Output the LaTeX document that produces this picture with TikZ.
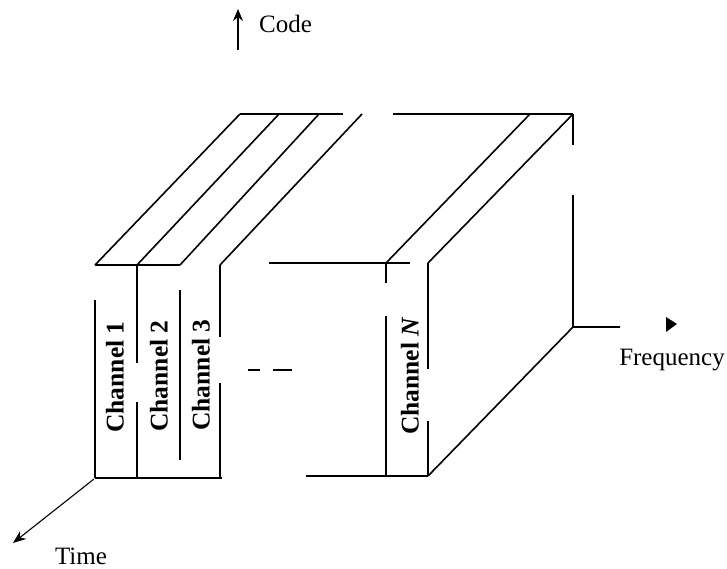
\documentclass[tikz,border=0pt]{standalone}
\usepackage{fontspec}
\setmainfont{Liberation Serif}
\usetikzlibrary{arrows.meta}
\begin{document}
\begin{tikzpicture}[x=1pt,y=-1pt,
  edge/.style={line width=1.6pt},
  axis/.style={line width=1.1pt},
  lab/.style={font=\fontsize{25}{30}\selectfont, inner sep=0pt},
  chan/.style={font=\fontsize{25.5}{30}\selectfont\bfseries, rotate=90, inner sep=0pt}]
\useasboundingbox (0,0) rectangle (727,569);
% back top edge
\draw[edge] (240,114) -- (343,114);
\draw[edge] (393,114) -- (573,114);
% diagonals of the top face
\draw[edge] (240,114) -- (95,265);
\draw[edge] (279,114) -- (137,265);
\draw[edge] (319,114) -- (180,265);
\draw[edge] (362,114) -- (220,265);
\draw[edge] (530,114) -- (386,263);
\draw[edge] (573,114) -- (428,263);
% front top edges
\draw[edge] (95,265) -- (180,265);
\draw[edge] (269,263) -- (410,263);
% verticals
\draw[edge] (95,300) -- (95,478);
\draw[edge] (137,265) -- (137,363) (137,402) -- (137,478);
\draw[edge] (180,290) -- (180,460);
\draw[edge] (220,265) -- (220,337) (220,383) -- (220,478);
\draw[edge] (386,263) -- (386,283) (386,316) -- (386,476);
\draw[edge] (428,263) -- (428,369) (428,421) -- (428,476);
\draw[edge] (573,114) -- (573,145) (573,195) -- (573,327);
% bottom edges
\draw[edge] (95,478) -- (222,478);
\draw[edge] (306,476) -- (428,476);
\draw[edge] (428,476) -- (573,327) -- (620,327);
% ellipsis dashes
\draw[edge] (248,370) -- (260,370) (273,370) -- (292,370);
% axes
\coordinate (o) at (94,479);
\coordinate (t) at (13,543);
\draw[axis,-{Stealth[length=13pt,width=10pt]}] (o) -- (t);
\coordinate (c0) at (238,50);
\coordinate (c1) at (238,9);
\draw[axis,-{Stealth[length=12pt,width=10pt]}] (c0) -- (c1);
\fill (666,317) -- (677,324) -- (666,332) -- cycle;
% labels
\node[lab, anchor=west] (code) at (259,24) {Code};
\node[lab] (freq) at (672,360) {Frequency};
\node[lab] (time) at (81,556) {Time};
\node[chan] (ch1) at (115,377) {Channel 1};
\node[chan] (ch2) at (159,376) {Channel 2};
\node[chan] (ch3) at (201,375) {Channel 3};
\node[chan] (chN) at (410,376) {Channel \textit{N}};
\end{tikzpicture}
\end{document}
